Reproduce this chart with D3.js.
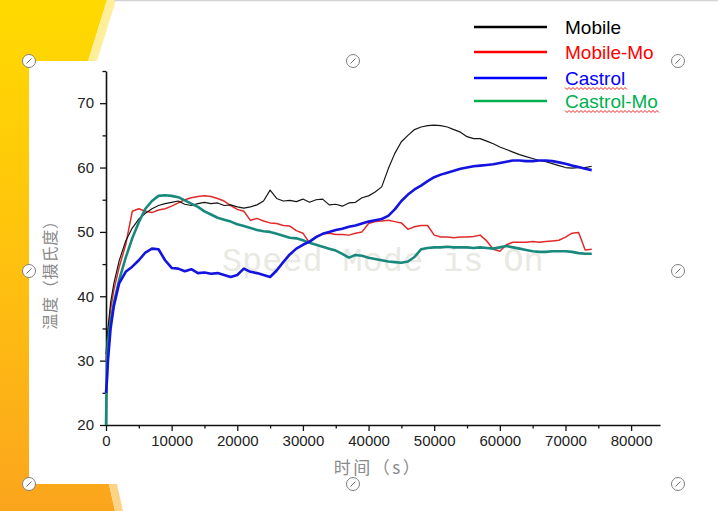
<!DOCTYPE html>
<html>
<head>
<meta charset="utf-8">
<script src="https://cdn.jsdelivr.net/npm/d3@7"></script>
<style>
  html, body { margin: 0; padding: 0; background: #fff; }
  svg { display: block; }
</style>
</head>
<body>
<svg id="chart"></svg>
<script>
const width = 718;
const height = 511;

// sample times (s)
const times = [0, 150, 300, 700, 1200, 2000, 3000, 4000, 5000, 6000, 7000, 8000, 9000,
    10000, 11000, 12000, 13000, 14000, 15000, 16000, 17000, 18000, 19000,
    20000, 21000, 22000, 23000, 24000, 25000, 26000, 27000, 28000, 29000,
    30000, 31000, 32000, 33000, 34000, 35000, 36000, 37000, 38000, 39000,
    40000, 41000, 42000, 43000, 44000, 45000, 46000, 47000, 48000, 49000,
    50000, 51000, 52000, 53000, 54000, 55000, 56000, 57000, 58000, 59000,
    60000, 61000, 62000, 63000, 64000, 65000, 66000, 67000, 68000, 69000,
    70000, 71000, 72000, 73000, 74000];

const mobile = [31, 33, 35, 39, 42, 45.5, 48.6, 50.6, 52, 52.9, 53.6, 54.1, 54.4,
    54.6, 54.8, 54.3, 54.1, 54.4, 54.6, 54.4, 54.5, 54.1, 54.2,
    53.9, 53.7, 53.9, 54.2, 54.8, 56.5, 55.2, 54.8, 54.9, 54.7,
    55.1, 54.6, 55.0, 55.1, 54.2, 54.3, 54.0, 54.5, 54.6, 55.3,
    55.6, 56.2, 57.0, 59.8, 62.2, 64.0, 65.0, 65.9, 66.3, 66.5,
    66.6, 66.5, 66.3, 65.9, 65.5, 64.8, 64.5, 64.5, 64.1, 63.7,
    63.2, 62.8, 62.4, 62.0, 61.7, 61.4, 61.1, 60.9, 60.6, 60.3,
    60.0, 59.9, 60.0, 60.0, 60.2];

const mobileMo = [30, 32, 34, 38, 41, 44.5, 48, 53.2, 53.6, 53.2, 53.0, 53.4, 53.6,
    54.0, 54.5, 55.0, 55.3, 55.5, 55.6, 55.5, 55.2, 54.8, 54.1,
    53.5, 53.2, 51.8, 52.1, 51.7, 51.4, 51.3, 51.0, 50.9, 50.2,
    49.8, 48.3, 49.3, 49.7, 49.8, 49.6, 49.6, 49.5, 49.8, 50.0,
    51.3, 51.6, 51.7, 51.8, 51.6, 51.4, 50.4, 50.8, 51.0, 51.0,
    49.5, 49.2, 49.2, 49.1, 49.2, 49.2, 49.3, 49.5, 48.6, 47.3,
    47.0, 48.0, 48.4, 48.4, 48.4, 48.5, 48.4, 48.5, 48.6, 48.7,
    49.2, 49.8, 49.9, 47.2, 47.3];

const castrol = [25, 27, 30, 35, 38.5, 42, 43.8, 44.6, 45.6, 46.8, 47.4, 47.3, 45.6,
    44.4, 44.3, 43.9, 44.2, 43.6, 43.7, 43.5, 43.6, 43.3, 43.0,
    43.3, 44.3, 43.8, 43.6, 43.3, 43.0, 44.0, 45.3, 46.5, 47.4,
    48.0, 48.5, 49.2, 49.7, 50.0, 50.3, 50.5, 50.8, 51.0, 51.3,
    51.6, 51.8, 52.0, 52.5, 53.5, 54.8, 55.8, 56.6, 57.2, 57.9,
    58.5, 58.9, 59.2, 59.5, 59.8, 60.0, 60.2, 60.3, 60.4, 60.5,
    60.7, 60.9, 61.1, 61.1, 61.0, 61.0, 61.1, 61.1, 61.0, 60.8,
    60.6, 60.3, 60.1, 59.8, 59.6];

const castrolMo = [20, 30, 33, 36, 39, 42.5, 46, 49, 51.5, 53.6, 54.8, 55.6, 55.7,
    55.6, 55.4, 54.9, 54.4, 53.9, 53.2, 52.7, 52.2, 51.9, 51.6,
    51.2, 50.9, 50.6, 50.3, 50.1, 50.0, 49.7, 49.4, 49.1, 49.0,
    48.7, 48.3, 48.0, 47.7, 47.4, 47.1, 46.6, 46.0, 46.4, 46.3,
    46.0, 45.8, 45.6, 45.4, 45.3, 45.2, 45.4, 46.1, 47.3, 47.5,
    47.6, 47.6, 47.7, 47.6, 47.6, 47.6, 47.5, 47.6, 47.5, 47.4,
    47.6, 47.8, 47.6, 47.4, 47.2, 47.0, 46.9, 46.9, 47.0, 47.0,
    47.0, 46.9, 46.7, 46.6, 46.6];

const seriesNames = ["Mobile", "Mobile-Mo", "Castrol", "Castrol-Mo"];
const xTicks = [0, 10000, 20000, 30000, 40000, 50000, 60000, 70000, 80000];
const yTicks = [20, 30, 40, 50, 60, 70];

const lineColors = {
    "Mobile": "#151515",
    "Mobile-Mo": "#e02a2a",
    "Castrol": "#1414e0",
    "Castrol-Mo": "#19897d"
};
const legendColors = {
    "Mobile": "#000000",
    "Mobile-Mo": "#ff0000",
    "Castrol": "#0000ff",
    "Castrol-Mo": "#00b050"
};
const lineWidths = { "Mobile": 1.2, "Mobile-Mo": 1.5, "Castrol": 2.6, "Castrol-Mo": 2.6 };

const svg = d3.select("#chart")
    .attr("width", width)
    .attr("height", height);

// slide background: yellow/orange band on the left
const defs = svg.append("defs");
const grad = defs.append("linearGradient")
    .attr("id", "band")
    .attr("x1", 0).attr("y1", 0).attr("x2", 0).attr("y2", 1);
grad.append("stop").attr("offset", "0%").attr("stop-color", "#ffda00");
grad.append("stop").attr("offset", "50%").attr("stop-color", "#ffc20e");
grad.append("stop").attr("offset", "100%").attr("stop-color", "#fba51d");

svg.append("polygon")
    .attr("points", "0,0 107,0 70,120 70,400 109,484 115,511 0,511")
    .attr("fill", "url(#band)");
svg.append("polygon")
    .attr("points", "107,0 116,0 97,61 88,61")
    .attr("fill", "#ffef9a");
svg.append("polygon")
    .attr("points", "109,484 117,484 123,511 115,511")
    .attr("fill", "#fdd486");
svg.append("line")
    .attr("x1", 114).attr("x2", width).attr("y1", 0.5).attr("y2", 0.5)
    .attr("stroke", "#d4d4d4").attr("stroke-width", 1.5);

// picture frame
svg.append("rect")
    .attr("x", 29).attr("y", 61)
    .attr("width", width - 29).attr("height", 423)
    .attr("fill", "#fff");

const x = d3.scaleLinear().domain([0, 84400]).range([106, 660]);
const y = d3.scaleLinear().domain([20, 75]).range([425, 71]);

// watermark
svg.append("text")
    .attr("x", 222).attr("y", 271)
    .attr("font-family", "'Liberation Mono', 'DejaVu Sans Mono', monospace")
    .attr("font-size", "33.5px")
    .attr("fill", "#e9e9e4")
    .text("Speed Mode is On");

// axes
const axisFont = "'Liberation Sans', Arial, sans-serif";

svg.append("g")
    .attr("transform", "translate(106,0)")
    .call(d3.axisLeft(y).tickValues(yTicks).tickSize(6).tickSizeOuter(0).tickPadding(6));
svg.append("g")
    .attr("transform", "translate(106,0)")
    .call(d3.axisLeft(y).tickValues([25, 35, 45, 55, 65, 75]).tickSize(3.5).tickFormat(""))
    .call(g => g.select(".domain").remove());

svg.append("g")
    .attr("transform", "translate(0,425)")
    .call(d3.axisBottom(x).tickValues(xTicks).tickFormat(d3.format("d"))
        .tickSize(6).tickSizeOuter(0).tickPadding(4));
svg.append("g")
    .attr("transform", "translate(0,425)")
    .call(d3.axisBottom(x).tickValues(d3.range(5000, 84400, 10000)).tickSize(3.5).tickFormat(""))
    .call(g => g.select(".domain").remove());

svg.selectAll(".domain").attr("stroke", "#111").attr("stroke-width", 1.6);
svg.selectAll(".tick line").attr("stroke", "#111").attr("stroke-width", 1.3);
svg.selectAll(".tick text")
    .attr("font-family", axisFont)
    .attr("font-size", "15px")
    .attr("fill", "#222");

// axis titles
svg.append("text")
    .attr("transform", "translate(56,271) rotate(-90)")
    .attr("text-anchor", "middle")
    .attr("font-family", "'Noto Sans CJK SC', sans-serif")
    .attr("font-size", "16px")
    .attr("letter-spacing", "0.8px")
    .attr("fill", "#8a8a8a")
    .text("温度（摄氏度）");

svg.append("text")
    .attr("x", 378).attr("y", 474)
    .attr("text-anchor", "middle")
    .attr("font-family", "'Noto Sans CJK SC', sans-serif")
    .attr("font-size", "17px")
    .attr("letter-spacing", "2.5px")
    .attr("fill", "#8a8a8a")
    .text("时间（s）");

// series lines
const valuesByName = {
    "Mobile": mobile,
    "Mobile-Mo": mobileMo,
    "Castrol": castrol,
    "Castrol-Mo": castrolMo
};

const line = d3.line()
    .x(d => x(d[0]))
    .y(d => y(d[1]))
    .curve(d3.curveLinear);

// draw order: mobile-mo, mobile, castrol-mo, castrol
["Mobile-Mo", "Mobile", "Castrol-Mo", "Castrol"].forEach(name => {
    const pts = times.map((t, i) => [t, valuesByName[name][i]]);
    svg.append("path")
        .datum(pts)
        .attr("fill", "none")
        .attr("stroke", lineColors[name])
        .attr("stroke-width", lineWidths[name])
        .attr("stroke-linejoin", "round")
        .attr("d", line);
});

// legend
const legendY = [27, 52, 78, 101];
const legend = svg.append("g");
seriesNames.forEach((name, i) => {
    legend.append("line")
        .attr("x1", 474).attr("x2", 547)
        .attr("y1", legendY[i]).attr("y2", legendY[i])
        .attr("stroke", legendColors[name])
        .attr("stroke-width", 2.5);
    const txt = legend.append("text")
        .attr("x", 565).attr("y", legendY[i] + 7)
        .attr("font-family", axisFont)
        .attr("font-size", "19px")
        .attr("fill", legendColors[name])
        .text(name);
    // spell-check squiggle under the Castrol entries
    if (name.startsWith("Castrol")) {
        const w = txt.node().getComputedTextLength();
        const yy = legendY[i] + 9.5;
        let d = `M565,${yy}`;
        for (let k = 0, px = 565; px < 565 + w; k++) {
            px += 2;
            d += `L${px},${k % 2 ? yy : yy + 2}`;
        }
        legend.append("path")
            .attr("d", d)
            .attr("fill", "none")
            .attr("stroke", "#e01010")
            .attr("stroke-width", 0.9);
    }
});

// selection handles
const handles = [[29, 61], [353, 61], [678, 61], [29, 271], [678, 271], [29, 484], [353, 484], [678, 484]];
const hg = svg.append("g");
handles.forEach(([hx, hy]) => {
    hg.append("circle")
        .attr("cx", hx).attr("cy", hy).attr("r", 6.5)
        .attr("fill", "#fff")
        .attr("stroke", "#808080")
        .attr("stroke-width", 1);
    hg.append("line")
        .attr("x1", hx - 2.5).attr("y1", hy + 2.5)
        .attr("x2", hx + 2.5).attr("y2", hy - 2.5)
        .attr("stroke", "#707070")
        .attr("stroke-width", 1);
});
</script>
</body>
</html>
